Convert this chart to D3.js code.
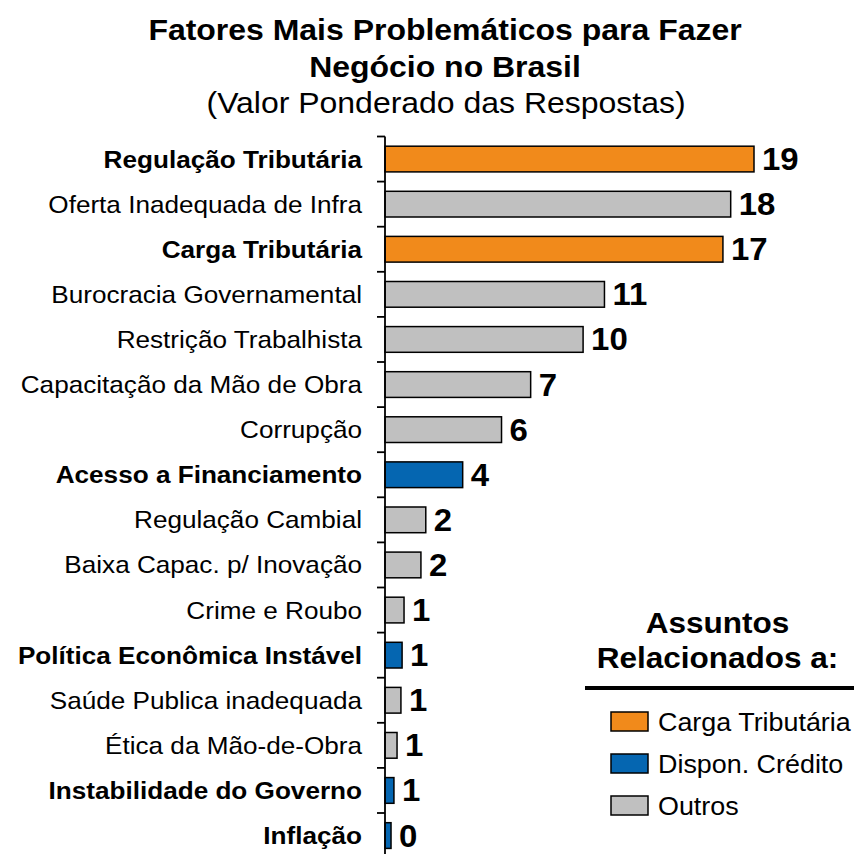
<!DOCTYPE html>
<html>
<head>
<meta charset="utf-8">
<script src="https://cdn.jsdelivr.net/npm/d3@7/dist/d3.min.js"></script>
<style>
  html, body { margin: 0; padding: 0; background: #fff; }
  svg { display: block; }
  text { font-family: "Liberation Sans", Arial, Helvetica, sans-serif; fill: #000; }
</style>
</head>
<body>
<svg id="chart" width="854" height="854"></svg>
<script>
// ---- data ----
const categories = [
  "Regulação Tributária", "Oferta Inadequada de Infra", "Carga Tributária",
  "Burocracia Governamental", "Restrição Trabalhista", "Capacitação da Mão de Obra",
  "Corrupção", "Acesso a Financiamento", "Regulação Cambial",
  "Baixa Capac. p/ Inovação", "Crime e Roubo", "Política Econômica Instável",
  "Saúde Publica inadequada", "Ética da Mão-de-Obra", "Instabilidade do Governo", "Inflação"
];
const values = [19, 17.8, 17.4, 11.3, 10.2, 7.5, 6.0, 4.0, 2.1, 1.85, 0.98, 0.88, 0.82, 0.62, 0.46, 0.31];
const valueLabels = ["19", "18", "17", "11", "10", "7", "6", "4", "2", "2", "1", "1", "1", "1", "1", "0"];
const groups = [
  "Carga Tributária", "Outros", "Carga Tributária", "Outros", "Outros", "Outros",
  "Outros", "Dispon. Crédito", "Outros", "Outros", "Outros", "Dispon. Crédito",
  "Outros", "Outros", "Dispon. Crédito", "Dispon. Crédito"
];
const legendGroups = ["Carga Tributária", "Dispon. Crédito", "Outros"];
const titleLines = ["Fatores Mais Problemáticos para Fazer", "Negócio no Brasil"];
const subtitle = "(Valor Ponderado das Respostas)";
const legendTitle = ["Assuntos", "Relacionados a:"];

// ---- setup ----
const SX = 1.08; // horizontal text stretch of the reference
const color = d3.scaleOrdinal().domain(legendGroups).range(["#F18A1B", "#0566B1", "#C0C0C0"]);
const svg = d3.select("#chart");

const data = categories.map((c, i) => ({ cat: c, v: values[i], lab: valueLabels[i], g: groups[i] }));

const y0 = 136.5, step = 45.1;
const y = d3.scaleBand().domain(categories)
  .range([y0, y0 + step * categories.length])
  .paddingInner(0.43).paddingOuter(0.215);
const x = d3.scaleLinear().domain([0, 19]).range([385, 754]);

function txt(parent, xx, yy, s, size, weight, anchor) {
  return parent.append("text")
    .attr("transform", `translate(${xx},${yy}) scale(${SX},1)`)
    .attr("text-anchor", anchor)
    .style("font-size", size + "px")
    .style("font-weight", weight)
    .text(s);
}

// ---- title ----
txt(svg, 445, 40, titleLines[0], 29.6, "bold", "middle");
txt(svg, 445, 77, titleLines[1], 29.6, "bold", "middle");
txt(svg, 446, 113, subtitle, 29.6, "normal", "middle");

// ---- bars ----
svg.append("g").selectAll("rect").data(data).join("rect")
  .attr("x", x(0))
  .attr("y", d => y(d.cat))
  .attr("width", d => x(d.v) - x(0))
  .attr("height", y.bandwidth())
  .attr("fill", d => color(d.g))
  .attr("stroke", "#000")
  .attr("stroke-width", 1.5);

// ---- axis ----
const axisG = svg.append("g");
axisG.append("line")
  .attr("x1", x(0)).attr("x2", x(0))
  .attr("y1", y0).attr("y2", y0 + step * categories.length)
  .attr("stroke", "#000").attr("stroke-width", 1.8);
axisG.selectAll("line.tick").data(d3.range(categories.length + 1)).join("line")
  .attr("class", "tick")
  .attr("x1", x(0) - 8).attr("x2", x(0))
  .attr("y1", i => y0 + i * step).attr("y2", i => y0 + i * step)
  .attr("stroke", "#000").attr("stroke-width", 1.8);

// ---- category labels ----
const catG = svg.append("g");
data.forEach(d => {
  txt(catG, 362, y(d.cat) + y.bandwidth() / 2 + 8.5, d.cat, 24.2,
      d.g === "Outros" ? "normal" : "bold", "end");
});

// ---- value labels ----
const valG = svg.append("g");
data.forEach(d => {
  txt(valG, x(d.v) + 8, y(d.cat) + y.bandwidth() / 2 + 11, d.lab, 30.5, "bold", "start");
});

// ---- legend ----
const lg = svg.append("g");
txt(lg, 717.5, 633, legendTitle[0], 29.2, "bold", "middle");
txt(lg, 717.5, 668, legendTitle[1], 29.2, "bold", "middle");
lg.append("line").attr("x1", 585).attr("x2", 854).attr("y1", 688).attr("y2", 688)
  .attr("stroke", "#000").attr("stroke-width", 4);
legendGroups.forEach((g, i) => {
  const yy = 712 + i * 42;
  lg.append("rect").attr("x", 611).attr("y", yy).attr("width", 37).attr("height", 19)
    .attr("fill", color(g)).attr("stroke", "#000").attr("stroke-width", 1.5);
  txt(lg, 658, yy + 19, g, 24.9, "normal", "start");
});
</script>
</body>
</html>
